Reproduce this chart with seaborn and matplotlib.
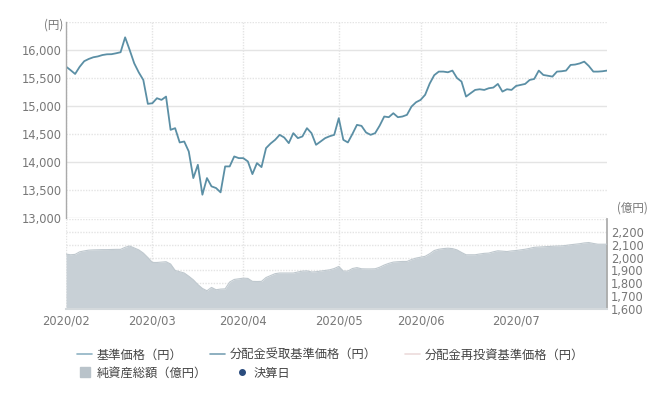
import numpy as np
import pandas as pd
import seaborn as sns
import matplotlib.pyplot as plt
from matplotlib.lines import Line2D
from matplotlib.patches import Patch

# month start positions (trading-day index) and labels
month_pos = [0, 19, 39, 60, 78, 99]
month_labels = ['2020/02', '2020/03', '2020/04', '2020/05', '2020/06', '2020/07']

# 基準価格 (円), one value per trading day
nav = [15703, 15640, 15572, 15700, 15800, 15840, 15870, 15885, 15910, 15923,
       15925, 15941, 15960, 16226, 16000, 15762, 15600, 15465, 15038, 15050,
       15139, 15109, 15168, 14574, 14604, 14349, 14366, 14188, 13713, 13950,
       13416, 13713, 13565, 13535, 13458, 13921, 13921, 14099, 14069, 14069,
       14010, 13784, 13980, 13909, 14248, 14330, 14396, 14485, 14437, 14337,
       14515, 14426, 14456, 14604, 14515, 14307, 14366, 14426, 14460, 14485,
       14782, 14396, 14349, 14500, 14663, 14645, 14527, 14485, 14515, 14650,
       14812, 14800, 14871, 14800, 14812, 14842, 14990, 15067, 15109, 15200,
       15400, 15550, 15614, 15614, 15602, 15632, 15500, 15436, 15168, 15228,
       15287, 15299, 15287, 15317, 15329, 15394, 15257, 15299, 15287, 15358,
       15376, 15394, 15465, 15483, 15632, 15554, 15540, 15525, 15614, 15620,
       15632, 15733, 15740, 15760, 15792, 15715, 15614, 15614, 15620, 15632]

# 純資産総額 (億円)
assets = [2027, 2022, 2025, 2045, 2052, 2058, 2060, 2061, 2062, 2062,
          2063, 2064, 2064, 2080, 2090, 2075, 2060, 2035, 2000, 1962,
          1962, 1965, 1968, 1950, 1900, 1890, 1880, 1855, 1827, 1790,
          1760, 1742, 1768, 1750, 1755, 1757, 1810, 1830, 1835, 1840,
          1838, 1815, 1814, 1815, 1845, 1860, 1875, 1880, 1880, 1880,
          1880, 1888, 1895, 1897, 1888, 1890, 1895, 1900, 1905, 1915,
          1931, 1895, 1895, 1915, 1922, 1913, 1912, 1912, 1913, 1925,
          1942, 1955, 1965, 1968, 1970, 1970, 1985, 1996, 2003, 2010,
          2030, 2055, 2065, 2070, 2073, 2070, 2060, 2040, 2022, 2022,
          2022, 2028, 2033, 2035, 2045, 2053, 2050, 2047, 2052, 2055,
          2060, 2065, 2072, 2080, 2082, 2084, 2086, 2088, 2090, 2091,
          2095, 2100, 2104, 2108, 2114, 2117, 2110, 2104, 2104, 2104]

nav_ticks = list(range(13000, 16501, 500))
asset_ticks = list(range(1600, 2301, 100))

LINE = '#5b8fa5'
AREA = '#c8d0d6'
TXT = '#777777'

sns.set_theme(style='white')
plt.rcParams['font.family'] = ['DejaVu Sans', 'Noto Sans CJK JP']

df = pd.DataFrame({'day': np.arange(len(nav)), 'nav': nav, 'assets': assets})

fig = plt.figure(figsize=(6.67, 3.94), dpi=100)
ax = fig.add_axes([0.099, 0.4467, 0.811, 0.4975])
ax2 = fig.add_axes([0.099, 0.2157, 0.811, 0.2284])

# upper panel: NAV line
for v in nav_ticks:
    ax.axhline(v, color='#e4e4e4', lw=1, ls=(0, (1, 1)) if v % 1000 else '-', zorder=0)
for p in month_pos:
    ax.axvline(p, color='#e4e4e4', lw=1, ls=(0, (1, 1)), zorder=0)
sns.lineplot(data=df, x='day', y='nav', ax=ax, color=LINE, lw=1.3)
ax.set_xlim(0, len(nav) - 1)
ax.set_ylim(13000, 16500)
ax.set_yticks(nav_ticks)
ax.set_yticklabels([f'{v:,}' if v < 16500 else '' for v in nav_ticks])
ax.set_xticks(month_pos)
ax.set_xticklabels([])
ax.set_xlabel('')
ax.set_ylabel('')
ax.tick_params(length=0, labelsize=8.3, labelcolor=TXT, pad=3)
for s in ['top', 'right', 'bottom']:
    ax.spines[s].set_visible(False)
ax.spines['left'].set_color('#aaaaaa')
ax.spines['left'].set_linewidth(1)

# lower panel: net assets area
for v in asset_ticks:
    ax2.axhline(v, color='#e4e4e4', lw=1, ls=(0, (1, 1)), zorder=0)
for p in month_pos:
    ax2.axvline(p, color='#e4e4e4', lw=1, ls=(0, (1, 1)), zorder=0)
ax2.fill_between(df['day'], 1600, df['assets'], color=AREA, lw=0, zorder=2)
sns.lineplot(data=df, x='day', y='assets', ax=ax2, color='#bfc8ce', lw=0.8, zorder=3)
ax2.set_xlim(0, len(nav) - 1)
ax2.set_ylim(1600, 2300)
ax2.yaxis.tick_right()
ax2.set_yticks(asset_ticks)
ax2.set_yticklabels([f'{v:,}' if v < 2300 else '' for v in asset_ticks])
ax2.set_xticks(month_pos)
ax2.set_xticklabels(month_labels)
ax2.set_xlabel('')
ax2.set_ylabel('')
ax2.tick_params(length=0, labelsize=8.3, labelcolor=TXT, pad=4)
ax2.tick_params(axis='y', pad=3)
for s in ['top', 'left']:
    ax2.spines[s].set_visible(False)
ax2.spines['right'].set_color('#aaaaaa')
ax2.spines['bottom'].set_color('#d4d9dc')
ax2.spines['bottom'].set_linewidth(1.5)

fig.text(63 / 667, 1 - 25 / 394, '(円)', ha='right', va='center', fontsize=8.3, color=TXT,
         family=['Noto Sans CJK JP', 'DejaVu Sans'])
fig.text(632 / 667, 1 - 208 / 394, '(億円)', ha='center', va='center', fontsize=8.3, color=TXT,
         family=['Noto Sans CJK JP', 'DejaVu Sans'])

# legend, two rows
prop = {'family': 'Noto Sans CJK JP', 'size': 8.8}
row1 = [Line2D([], [], color='#8fb3c4', lw=1.2),
        Line2D([], [], color='#7aa2b5', lw=1.2),
        Line2D([], [], color='#ecdcdc', lw=1.2)]
lab1 = ['基準価格（円）', '分配金受取基準価格（円）', '分配金再投資基準価格（円）']
fig.legend(row1, lab1, loc='center left', bbox_to_anchor=(72 / 667, 1 - 355 / 394),
           ncol=3, frameon=False, prop=prop, handlelength=1.2, handletextpad=0.4,
           columnspacing=2.3, borderaxespad=0, labelcolor='#444444')
row2 = [Patch(color='#b9c3ca'),
        Line2D([], [], marker='o', ls='', color='#2b4c7e', markersize=4)]
lab2 = ['純資産総額（億円）', '決算日']
fig.legend(row2, lab2, loc='center left', bbox_to_anchor=(75 / 667, 1 - 373 / 394),
           ncol=2, frameon=False, prop=prop, handlelength=0.85, handleheight=0.85,
           handletextpad=0.55, columnspacing=2.4, borderaxespad=0, labelcolor='#444444')

fig.savefig('out.png', dpi=100)
